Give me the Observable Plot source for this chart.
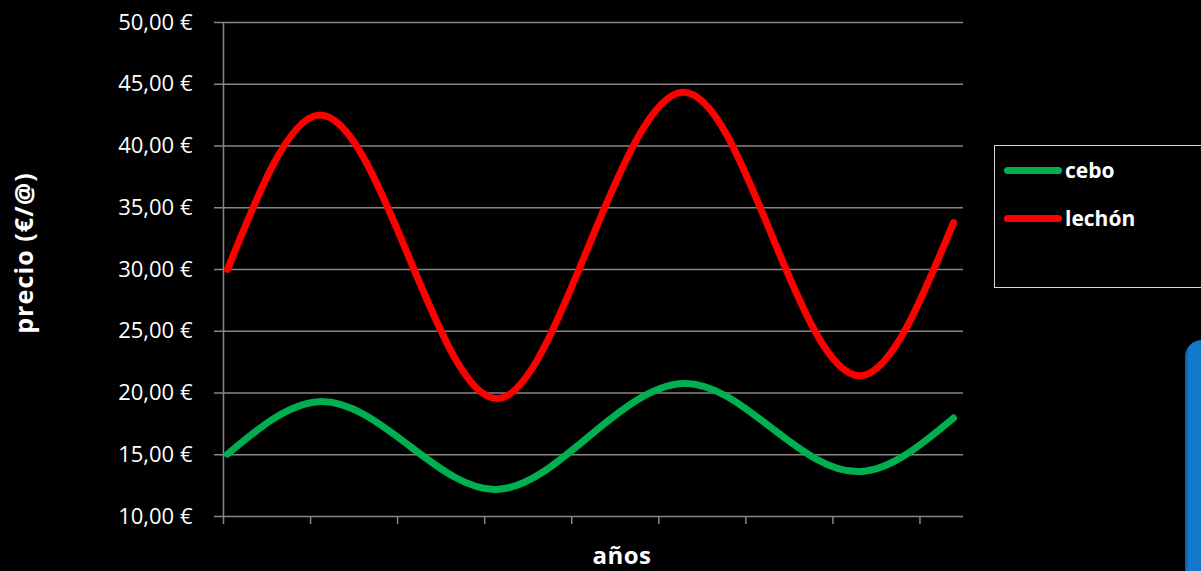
<!DOCTYPE html>
<html>
<head>
<meta charset="utf-8">
<script src="https://cdn.jsdelivr.net/npm/d3@7"></script>
<script src="https://cdn.jsdelivr.net/npm/@observablehq/plot@0.6"></script>
<style>
  html, body { margin: 0; padding: 0; background: #000; }
  #wrap { position: relative; width: 1201px; height: 571px; overflow: hidden; background: #000; }
  #legend { position: absolute; left: 994px; top: 145px; width: 240px; height: 143px;
            border: 1.5px solid #d9d9d9; box-sizing: border-box; }
  .item { position: absolute; left: 9px; height: 24px; display: flex; align-items: center;
          font-family: "Open Sans", sans-serif; font-weight: 700; font-size: 21px; color: #fff; }
  .sw { width: 58px; height: 7px; border-radius: 4px; margin-right: 3px; }
  #deco { position: absolute; left: 1185px; top: 340px; width: 40px; height: 260px;
          border-radius: 17px; background: linear-gradient(90deg, #0b5aa8 0px, #1478cc 4px, #0a74c9 100%); }
</style>
</head>
<body>
<div id="wrap"></div>
<script>
// Positions of the data points along the "años" axis, in tick units (ticks at 0..8)
const periods = [0.046, 1.095, 2.13, 3.155, 4.20, 5.27, 6.29, 7.32, 8.385];
const ceboValues = [15.05, 19.3, 15.75, 12.2, 16.5, 20.77, 17.2, 13.64, 17.97];
const lechonValues = [30.0, 42.5, 31.0, 19.55, 32.0, 44.35, 32.9, 21.4, 33.8];

const seriesNames = ["cebo", "lechón"];
const seriesColors = ["#00b050", "#ff0000"];
const yTicks = [10, 15, 20, 25, 30, 35, 40, 45, 50];
const yTickLabels = ["10,00 €", "15,00 €", "20,00 €", "25,00 €", "30,00 €", "35,00 €", "40,00 €", "45,00 €", "50,00 €"];
const xTicks = [0, 1, 2, 3, 4, 5, 6, 7, 8];
const xTitle = "años";
const yTitle = "precio (€/@)";

const cebo = periods.map((t, i) => ({t, p: ceboValues[i], s: seriesNames[0]}));
const lechon = periods.map((t, i) => ({t, p: lechonValues[i], s: seriesNames[1]}));

const W = 1201, H = 571;
const mL = 223, mR = 238, mT = 22, mB = 55;

const chart = Plot.plot({
  width: W, height: H,
  marginLeft: mL, marginRight: mR, marginTop: mT, marginBottom: mB,
  style: {background: "#000", color: "#fff", fontFamily: "'Open Sans', sans-serif", overflow: "visible"},
  x: {domain: [0, 8.5], axis: null},
  y: {domain: [10, 50], axis: null},
  marks: [
    Plot.ruleY(yTicks, {stroke: "#868686", strokeWidth: 1.5}),
    Plot.ruleX([0], {stroke: "#868686", strokeWidth: 1.5}),
    Plot.axisY({ticks: yTicks, tickFormat: d => yTickLabels[yTicks.indexOf(d)], tickSize: 9, tickPadding: 22,
                stroke: "#868686", strokeWidth: 1.5, fill: "#fff", fontSize: 22, label: null}),
    Plot.axisX({ticks: xTicks, tickFormat: () => "", tickSize: 8, stroke: "#868686", strokeWidth: 1.5, label: null}),
    Plot.line(lechon, {x: "t", y: "p", stroke: seriesColors[1], strokeWidth: 7, curve: "natural", strokeLinecap: "round", strokeLinejoin: "round"}),
    Plot.line(cebo, {x: "t", y: "p", stroke: seriesColors[0], strokeWidth: 7, curve: "natural", strokeLinecap: "round", strokeLinejoin: "round"})
  ]
});

const svg = d3.select(chart);
svg.append("text").attr("x", 622).attr("y", 564).attr("text-anchor", "middle")
  .attr("fill", "#fff").attr("font-family", "'Open Sans', sans-serif").attr("font-weight", 700).attr("font-size", 24)
  .attr("letter-spacing", 0.5)
  .text(xTitle);
svg.append("text").attr("transform", "translate(33,253) rotate(-90)").attr("text-anchor", "middle")
  .attr("fill", "#fff").attr("font-family", "'Open Sans', sans-serif").attr("font-weight", 700).attr("font-size", 25)
  .attr("letter-spacing", 1.1)
  .text(yTitle);

const wrap = document.getElementById("wrap");
wrap.appendChild(chart);

const legend = document.createElement("div");
legend.id = "legend";
seriesNames.forEach((n, i) => {
  const it = document.createElement("div");
  it.className = "item";
  it.style.top = (12 + i * 48) + "px";
  const sw = document.createElement("div");
  sw.className = "sw";
  sw.style.background = seriesColors[i];
  const tx = document.createElement("span");
  tx.textContent = n;
  it.appendChild(sw); it.appendChild(tx);
  legend.appendChild(it);
});
wrap.appendChild(legend);

const deco = document.createElement("div");
deco.id = "deco";
wrap.appendChild(deco);
</script>
</body>
</html>
